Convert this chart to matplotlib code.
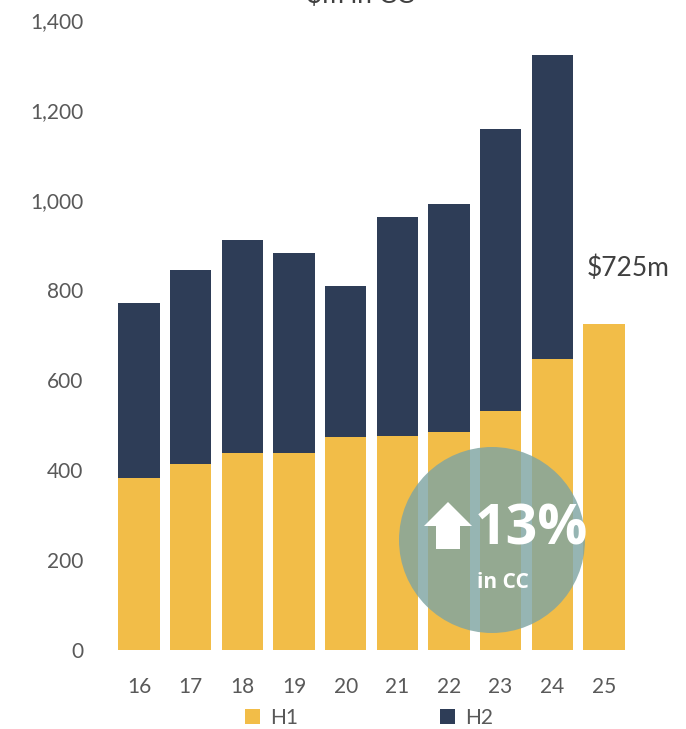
import matplotlib.pyplot as plt
from matplotlib.patches import Ellipse, Polygon

years = ["16", "17", "18", "19", "20", "21", "22", "23", "24", "25"]
h1 = [382, 413, 438, 438, 473, 476, 484, 531, 647, 725]
h2 = [389, 431, 473, 444, 336, 486, 507, 627, 675, 0]

yellow = "#F2BD48"
navy = "#2E3D57"
grey = "#595959"

plt.rcParams["font.family"] = ["Lato", "DejaVu Sans"]

fig = plt.figure(figsize=(6.86, 7.29), dpi=100)
ax = fig.add_axes([0.165, 0.108, 0.753, 0.8645])

x = list(range(len(years)))
ax.bar(x, h1, width=0.8, color=yellow, label="H1", zorder=2)
ax.bar(x[:-1], h2[:-1], bottom=h1[:-1], width=0.8, color=navy, label="H2", zorder=2)

ax.set_xlim(-0.5, 9.5)
ax.set_ylim(0, 1400)
ax.set_yticks(range(0, 1401, 200))
ax.set_yticklabels([f"{v:,}" for v in range(0, 1401, 200)])
ax.set_xticks(x)
ax.set_xticklabels(years)
ax.tick_params(axis="both", length=0, labelsize=15, colors=grey)
ax.tick_params(axis="y", pad=21.5)
ax.tick_params(axis="x", pad=19)
for s in ax.spines.values():
    s.set_visible(False)

ax.text(9.46, 849, "$725m", ha="center", va="center", fontsize=19, color="#404040")

fig.text(0.525, 1 - 3 / 729, r"\$m in CC", ha="center", va="baseline", fontsize=19, color="#404040")

# growth badge
W, H = 686, 729
circ = Ellipse((492 / W, 1 - 540 / H), 2 * 93 / W, 2 * 93 / H, transform=fig.transFigure,
               facecolor="#7FA5A2", alpha=0.82, edgecolor="none", zorder=5)
fig.patches.append(circ)
arrow_px = [(448, 502), (472, 526), (460, 526), (460, 549), (436, 549), (436, 526), (424, 526)]
arrow = Polygon([(px / W, 1 - py / H) for px, py in arrow_px], closed=True,
                transform=fig.transFigure, facecolor="white", edgecolor="none", zorder=6)
fig.patches.append(arrow)
fig.text(531 / W, 1 - 530 / H, "13%", ha="center", va="center", fontsize=40,
         fontweight="bold", color="white", zorder=7, family="Open Sans")
fig.text(503 / W, 1 - 583 / H, "in CC", ha="center", va="center", fontsize=15,
         fontweight="bold", color="white", zorder=7, family="Open Sans")

leg = fig.legend(loc="center", bbox_to_anchor=(0.538, 1 - 718 / H), ncol=2, frameon=False,
                 fontsize=15, handlelength=0.72, handleheight=0.72, columnspacing=6.8,
                 handletextpad=0.5)
for t in leg.get_texts():
    t.set_color(grey)

fig.savefig("out.png", dpi=100)
